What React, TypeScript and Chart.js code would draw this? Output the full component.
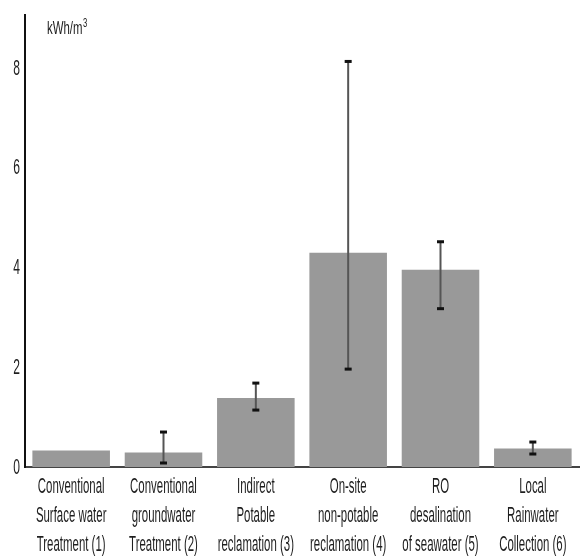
import React, { useEffect, useRef } from "react";
import { Chart, registerables } from "chart.js";
Chart.register(...registerables);

const categories: string[][] = [
  ["Conventional", "Surface water", "Treatment (1)"],
  ["Conventional", "groundwater", "Treatment (2)"],
  ["Indirect", "Potable", "reclamation (3)"],
  ["On-site", "non-potable", "reclamation (4)"],
  ["RO", "desalination", "of seawater (5)"],
  ["Local", "Rainwater", "Collection (6)"],
];
const values = [0.33, 0.29, 1.38, 4.29, 3.95, 0.37];
const errLow: (number | null)[] = [null, 0.08, 1.14, 1.96, 3.17, 0.26];
const errHigh: (number | null)[] = [null, 0.7, 1.68, 8.12, 4.51, 0.5];
const yTicks = [0, 2, 4, 6, 8];
const unitLabel = "kWh/m";
const unitSup = "3";

const FONT = "'Liberation Sans', Arial, sans-serif";
const SX = 0.52;

function narrowText(ctx: any, text: string, x: number, y: number, size: number, align: string, sx: number) {
  ctx.save();
  ctx.font = `${size}px ${FONT}`;
  ctx.textAlign = align;
  ctx.translate(x, y);
  ctx.scale(sx, 1);
  ctx.fillText(text, 0, 0);
  ctx.restore();
}

const errorBarPlugin = {
  id: "errorBars",
  afterDatasetsDraw(chart: any) {
    const ctx = chart.ctx;
    const x = chart.scales.x;
    const y = chart.scales.y;
    ctx.save();
    values.forEach((_, i) => {
      const lo = errLow[i];
      const hi = errHigh[i];
      if (lo == null || hi == null) return;
      const px = x.getPixelForValue(i);
      const pLo = y.getPixelForValue(lo);
      const pHi = y.getPixelForValue(hi);
      ctx.strokeStyle = "#555";
      ctx.lineWidth = 2;
      ctx.beginPath();
      ctx.moveTo(px, pLo);
      ctx.lineTo(px, pHi);
      ctx.stroke();
      ctx.fillStyle = "#111";
      ctx.fillRect(px - 3.5, pHi - 1.5, 7, 3);
      ctx.fillRect(px - 3.5, pLo - 1.5, 7, 3);
    });
    ctx.restore();
  },
};

const labelPlugin = {
  id: "narrowLabels",
  afterDraw(chart: any) {
    const ctx = chart.ctx;
    const x = chart.scales.x;
    const y = chart.scales.y;
    ctx.save();
    ctx.fillStyle = "#1e1e1e";
    ctx.textBaseline = "middle";
    // x category labels
    categories.forEach((lines, i) => {
      const px = x.getPixelForValue(i);
      lines.forEach((line, k) => {
        narrowText(ctx, line, px, y.bottom + 20 + k * 29, 22, "center", SX);
      });
    });
    // y tick labels
    yTicks.forEach((v) => {
      narrowText(ctx, String(v), x.left - 5, y.getPixelForValue(v) + 1, 22, "right", 0.55);
    });
    // unit label
    ctx.textBaseline = "alphabetic";
    narrowText(ctx, unitLabel, 47, 34, 19, "left", 0.6);
    ctx.font = `19px ${FONT}`;
    const w = ctx.measureText(unitLabel).width * 0.6;
    narrowText(ctx, unitSup, 47 + w + 0.5, 27, 12, "left", 0.65);
    ctx.restore();
  },
};

export default function App() {
  const ref = useRef<HTMLCanvasElement>(null);
  useEffect(() => {
    if (!ref.current) return;
    const chart = new Chart(ref.current, {
      type: "bar",
      data: {
        labels: categories,
        datasets: [
          {
            data: values,
            backgroundColor: "#999999",
            borderWidth: 0,
            categoryPercentage: 0.84,
            barPercentage: 1,
          },
        ],
      },
      options: {
        animation: false,
        responsive: false,
        maintainAspectRatio: false,
        layout: { padding: { top: 15, right: 2, left: 0, bottom: 0 } },
        plugins: { legend: { display: false }, tooltip: { enabled: false } },
        scales: {
          x: {
            grid: { display: false, drawTicks: false },
            border: { display: true, color: "#444", width: 2 },
            ticks: { display: false },
            afterFit(scale: any) {
              scale.height = 89;
            },
          },
          y: {
            min: 0,
            max: 9.05,
            grid: { display: false, drawTicks: false },
            border: { display: true, color: "#111", width: 2 },
            afterBuildTicks(scale: any) {
              scale.ticks = yTicks.map((v) => ({ value: v }));
            },
            ticks: { display: false },
            afterFit(scale: any) {
              scale.width = 25;
            },
          },
        },
      },
      plugins: [errorBarPlugin, labelPlugin],
    });
    return () => chart.destroy();
  }, []);
  return (
    <div style={{ position: "absolute", left: 0, top: 0, width: 581, height: 556, background: "#fff" }}>
      <canvas ref={ref} width={581} height={556} style={{ display: "block" }} />
    </div>
  );
}
